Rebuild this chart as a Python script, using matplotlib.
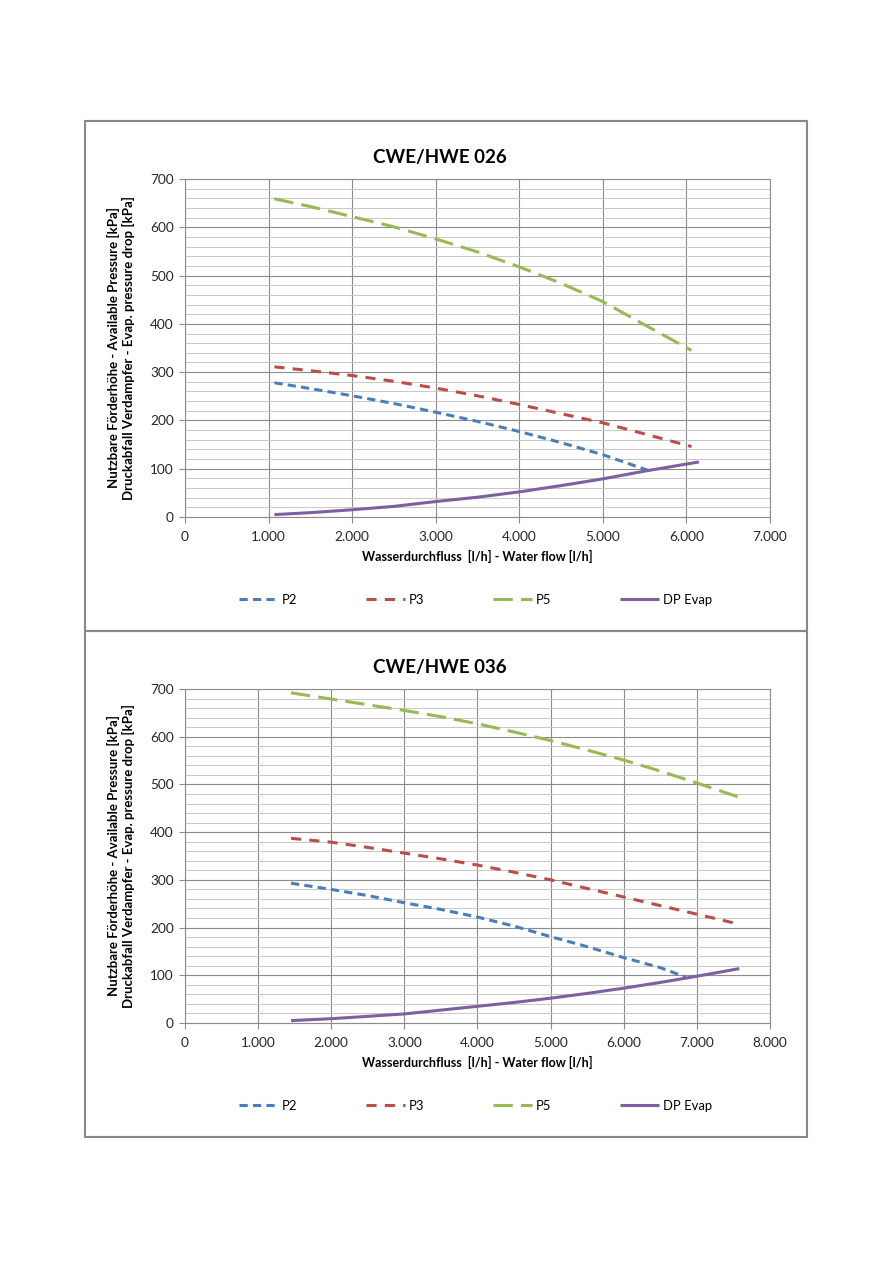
import numpy as np
import matplotlib
matplotlib.use('Agg')
import matplotlib.pyplot as plt
from matplotlib.patches import Rectangle
from matplotlib.ticker import MultipleLocator, FuncFormatter

# Data (flow in l/h, pressure in kPa)
###################################################################

# CWE/HWE 026
x026 = [1070, 1500, 2000, 2500, 3000, 3500, 4000, 4500, 5000, 5500, 6060]
p5_026 = [659, 643, 622, 601, 576, 549, 518, 484, 446, 398, 345]
p3_026 = [311, 303, 293, 281, 267, 251, 233, 214, 195, 172, 146]
x026_p2 = [1070, 1500, 2000, 2500, 3000, 3500, 4000, 4500, 5000, 5550]
p2_026 = [278, 266, 251, 235, 217, 198, 177, 154, 129, 96]
x026_dp = [1070, 1500, 2000, 2500, 3000, 3500, 4000, 4500, 5000, 5500, 6150]
dp_026 = [5, 9, 15, 22, 32, 41, 52, 65, 79, 95, 114]

# CWE/HWE 036
x036 = [1450, 2000, 2500, 3000, 3500, 4000, 4500, 5000, 5500, 6000, 6500, 7000, 7580]
p5_036 = [692, 679, 667, 655, 642, 627, 610, 592, 572, 551, 528, 503, 473]
p3_036 = [387, 379, 368, 356, 344, 331, 316, 300, 282, 264, 246, 228, 207]
x036_p2 = [1450, 2000, 2500, 3000, 3500, 4000, 4500, 5000, 5500, 6000, 6500, 6850]
p2_036 = [293, 280, 267, 252, 238, 222, 203, 181, 160, 137, 116, 96]
dp_036 = [5, 9, 14, 19, 27, 35, 43, 52, 62, 73, 85, 98, 114]

titles = ['CWE/HWE 026', 'CWE/HWE 036']
series_names = ['P2', 'P3', 'P5', 'DP Evap']
xmax = [7000, 8000]

ylabel = ('Nutzbare Förderhöhe - Available Pressure [kPa]\n'
          'Druckabfall Verdampfer - Evap. pressure drop [kPa]')
xlabel = 'Wasserdurchfluss  [l/h] - Water flow [l/h]'

# Styles
#########
W, H = 893, 1263
plt.rcParams['font.family'] = ['Lato', 'DejaVu Sans']

colors = {'P2': '#4a7ebb', 'P3': '#be4b48', 'P5': '#98b954', 'DP Evap': '#7d60a0'}
dashes = {'P2': (2.7, 1.7), 'P3': (3.3, 2.7), 'P5': (6.3, 2.7), 'DP Evap': None}
LW = 2.2


def px_box(left, top, right, bottom) :
    # pixel box -> figure fraction [l, b, w, h]
    return [left/W, 1 - bottom/H, (right-left)/W, (bottom-top)/H]


def thousands(v, pos) :
    if v == 0 :
        return '0'
    return f'{int(v):,}'.replace(',', '.')


def draw_line(ax, x, y, name) :
    line, = ax.plot(x, y, color=colors[name], lw=LW, label=name,
                    solid_capstyle='butt', dash_capstyle='butt')
    if dashes[name] is not None :
        line.set_dashes(dashes[name])
    return line


def setup_axes(ax, x_max) :
    ax.set_xlim(0, x_max)
    ax.set_ylim(0, 700)
    ax.xaxis.set_major_locator(MultipleLocator(1000))
    ax.yaxis.set_major_locator(MultipleLocator(100))
    ax.yaxis.set_minor_locator(MultipleLocator(20))
    ax.xaxis.set_major_formatter(FuncFormatter(thousands))
    ax.grid(True, which='major', color='#8c8c8c', lw=0.8)
    ax.grid(True, which='minor', axis='y', color='#c8c8c8', lw=0.7)
    ax.set_axisbelow(True)
    for s in ax.spines.values() :
        s.set_color('#8c8c8c')
        s.set_linewidth(0.8)
    ax.tick_params(which='major', direction='out', length=4, color='#8c8c8c',
                   labelsize=9.8, labelcolor='#262626', pad=4)
    ax.tick_params(which='minor', length=0)
    ax.tick_params(axis='x', pad=6)


fig = plt.figure(figsize=(W/100, H/100), dpi=100)

# outer frames of the two charts
fig.patches.append(Rectangle((85/W, 1-631/H), 722/W, 510/H, transform=fig.transFigure,
                             fill=False, ec='#888888', lw=1.5))
fig.patches.append(Rectangle((85/W, 1-1137/H), 722/W, 506/H, transform=fig.transFigure,
                             fill=False, ec='#888888', lw=1.5))

# axes boxes in pixels (left, top, right, bottom)
ax_px = [(185, 179, 770, 517), (185, 689, 770, 1023)]

charts = [
    [(x026_p2, p2_026), (x026, p3_026), (x026, p5_026), (x026_dp, dp_026)],
    [(x036_p2, p2_036), (x036, p3_036), (x036, p5_036), (x036, dp_036)],
]

for i in range(2) :
    l, t, r, b = ax_px[i]
    ax = fig.add_axes(px_box(l, t, r, b))
    setup_axes(ax, xmax[i])

    for name, (x, y) in zip(series_names, charts[i]) :
        draw_line(ax, x, y, name)

    # title, labels
    fig.text(440/W, 1 - (t-22)/H, titles[i], ha='center', va='center',
             fontsize=13.5, fontweight='bold', color='#000000')
    fig.text(121/W, 1 - (t+b)/2/H, ylabel, rotation=90, ha='center', va='center',
             fontsize=9.5, fontweight='bold', linespacing=1.25, multialignment='center')
    fig.text((l+r)/2/W, 1 - (b+39)/H, xlabel, ha='center', va='center',
             fontsize=9.0, fontweight='bold')

    # legend below the plot
    leg_y = b + 83
    ax.legend(loc='center', bbox_to_anchor=(239/W, 1 - (leg_y+8)/H, 473/W, 16/H),
              bbox_transform=fig.transFigure, mode='expand', ncol=4, frameon=False,
              fontsize=9.4, handlelength=3.0, handletextpad=0.3, borderpad=0,
              borderaxespad=0)

fig.savefig('out.png', dpi=100)
